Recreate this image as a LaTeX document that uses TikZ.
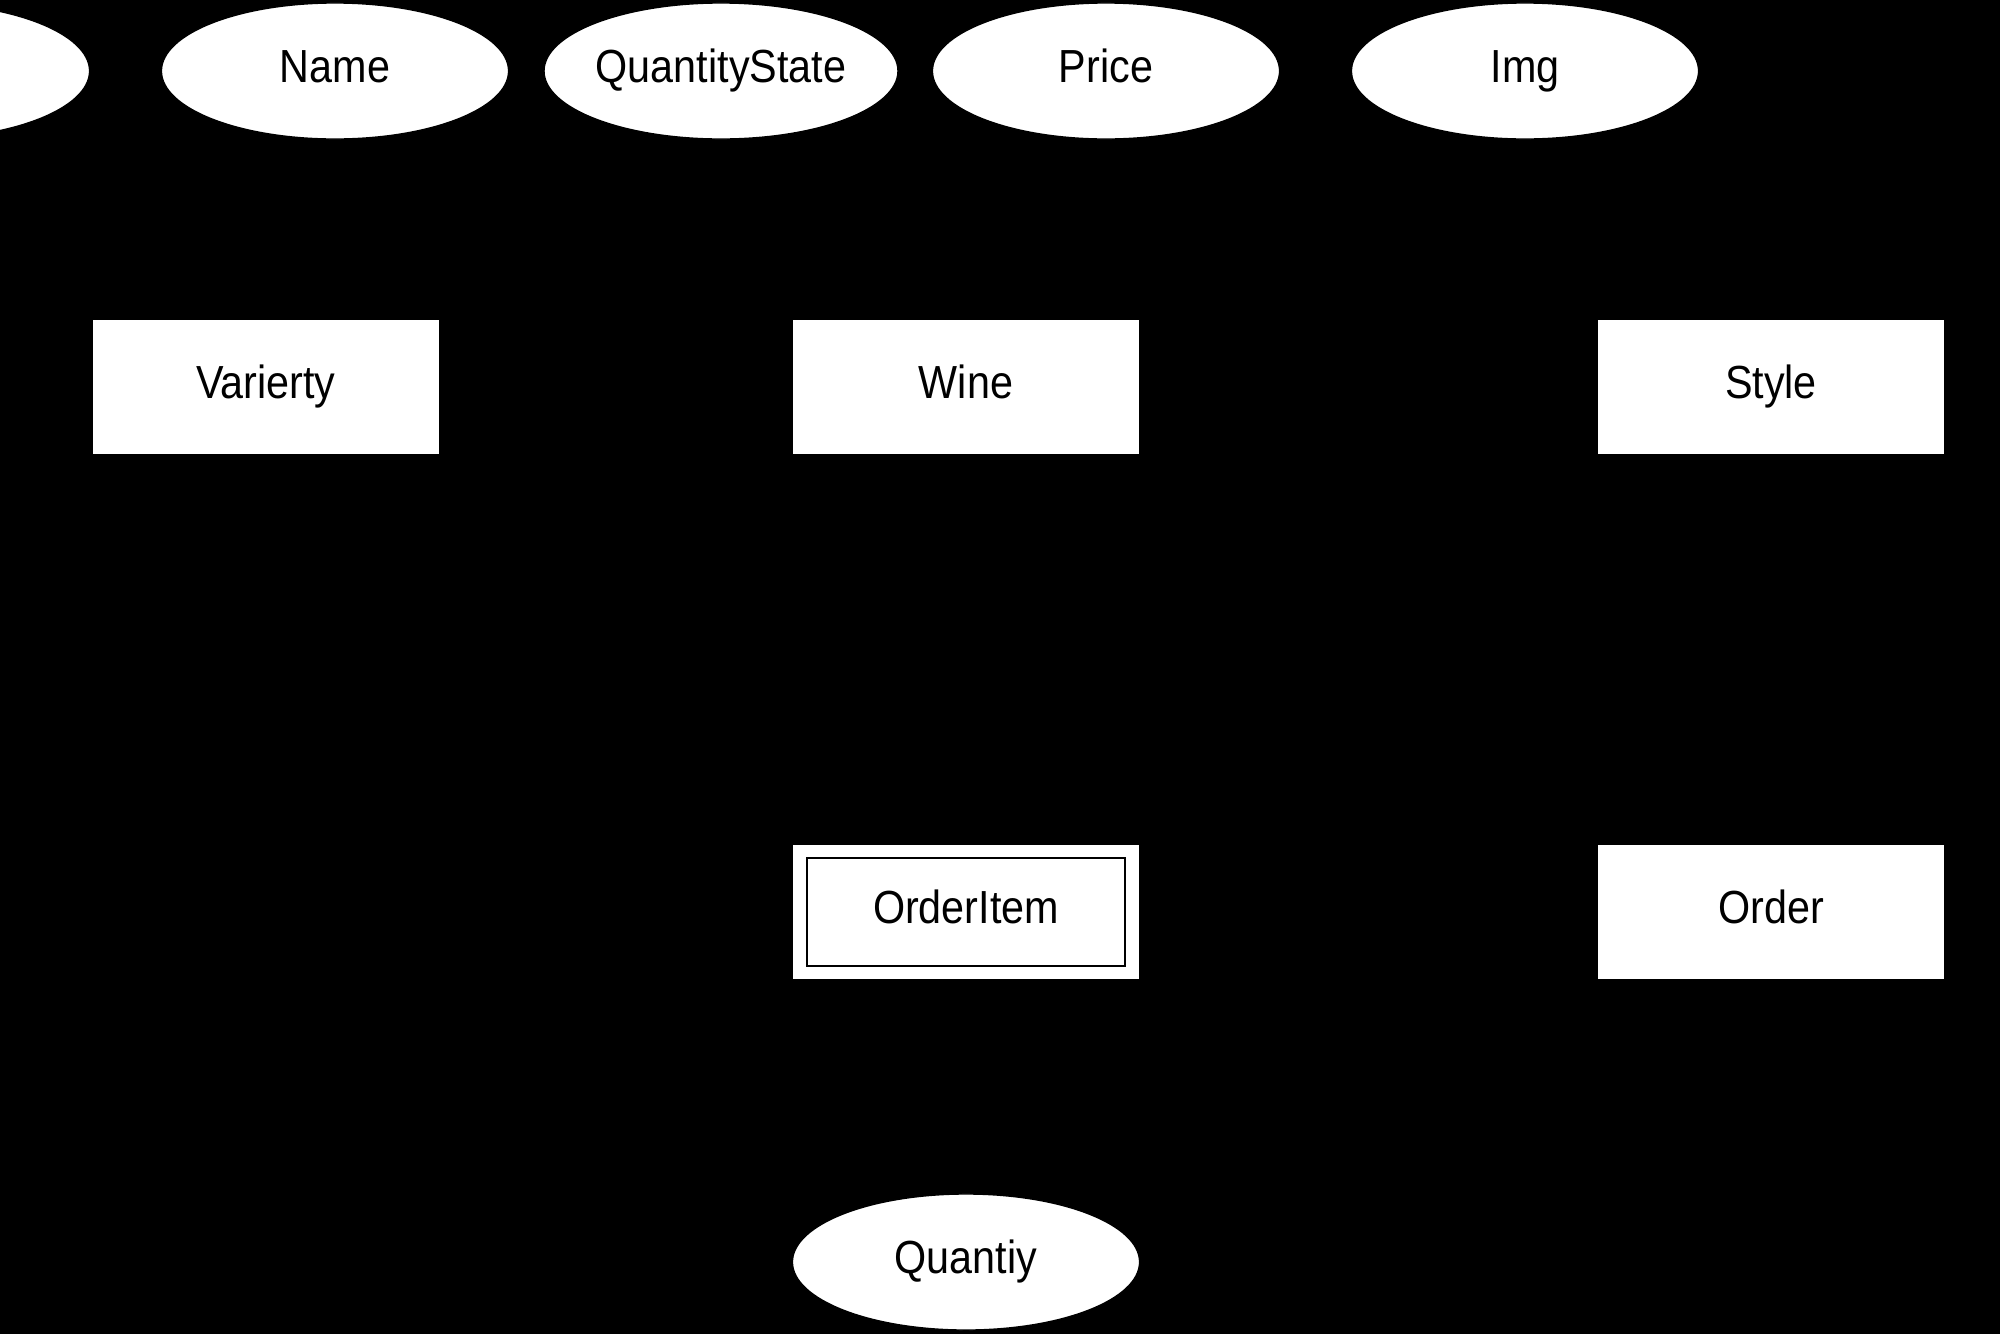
\documentclass[tikz,border=0pt]{standalone}
\usepackage{fontspec}
\setmainfont[FakeStretch=0.89]{Liberation Sans}
\usetikzlibrary{shapes.geometric}

\begin{document}
\begin{tikzpicture}[x=0.01cm, y=-0.01cm,
  attr/.style={ellipse, draw=black, fill=white, minimum width=3.47cm, minimum height=1.36cm, inner sep=0pt, text height=1.6ex, text depth=0.4ex, font=\fontsize{13.2}{16}\selectfont},
  entity/.style={rectangle, draw=black, fill=white, minimum width=3.47cm, minimum height=1.35cm, inner sep=0pt, text height=1.6ex, text depth=0.4ex, font=\fontsize{13.2}{16}\selectfont}]
  % Page and background
  \useasboundingbox (0,0) rectangle (2000,1333);
  \fill[black] (-10,-10) rectangle (2010,1343);
  \clip (0,0) rectangle (2000,1333);

  % Attributes of Wine
  \node[attr] (id) at (-84,71) {};
  \node[attr] (name) at (335,71) {Name};
  \node[attr] (qstate) at (721,71) {QuantityState};
  \node[attr] (price) at (1106,71) {Price};
  \node[attr] (img) at (1525,71) {Img};

  % Entities
  \node[entity] (variety) at (266,387) {Varierty};
  \node[entity] (wine) at (966,387) {Wine};
  \node[entity] (style) at (1771,387) {Style};

  % Weak entity
  \node[entity] (item) at (966,912) {OrderItem};
  \draw[black, line width=0.5pt] ([shift={(15,14)}]item.north west) rectangle ([shift={(-15,-14)}]item.south east);
  \node[entity] (order) at (1771,912) {Order};

  % Attribute of OrderItem
  \node[attr] (qty) at (966,1262) {Quantiy};
\end{tikzpicture}
\end{document}
